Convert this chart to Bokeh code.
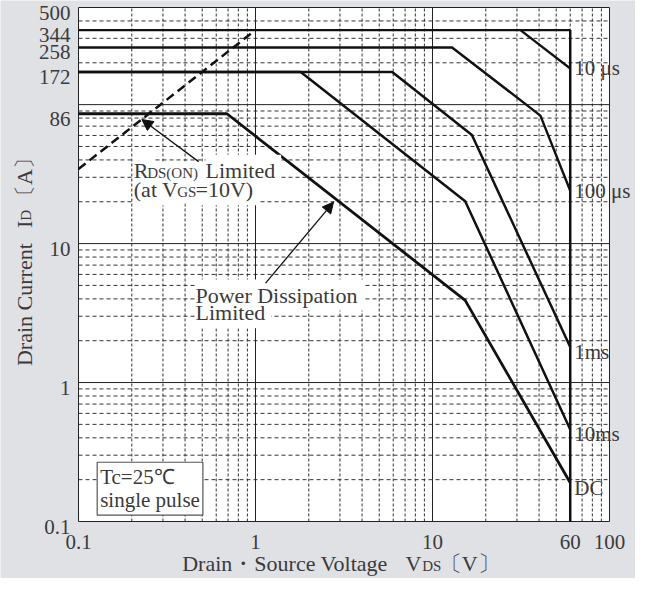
import math
from bokeh.plotting import figure
from bokeh.models import Label, Arrow, NormalHead, Range1d
from bokeh.embed import file_html
from bokeh.resources import INLINE

# ---------------- data ----------------
x_limits = [0.1, 100]
y_limits = [0.1, 500]
x_tick_values = [0.1, 1, 10, 60, 100]
x_tick_labels = ["0.1", "1", "10", "60", "100"]
y_tick_values = [0.1, 1, 10, 86, 172, 258, 344, 500]
y_tick_labels = ["0.1", "1", "10", "86", "172", "258", "344", "500"]

x_major_grid = [1, 10]
x_minor_grid = [0.2, 0.3, 0.4, 0.5, 0.6, 0.7, 0.8, 0.9,
                2, 3, 4, 5, 6, 7, 8, 9,
                20, 30, 40, 50, 60, 70, 80, 90]
y_major_grid = [1, 10, 100]
y_minor_grid = [0.2, 0.3, 0.4, 0.5, 0.6, 0.7, 0.8, 0.9,
                2, 3, 4, 5, 6, 7, 8, 9,
                20, 30, 40, 50, 60, 70, 80, 90,
                200, 300, 400]

# SOA curves (VDS [V], ID [A])
v_idp = [0.1, 60]
i_idp = [344, 344]
v_vdss = [60, 60]
i_vdss = [344, 0.1]
v_10us = [31.4, 60]
i_10us = [344, 182]
v_100us = [0.1, 12.9, 40.7, 60]
i_100us = [258, 258, 83.4, 24.0]
v_1ms = [0.1, 5.92, 16.7, 60]
i_1ms = [172, 172, 60.4, 1.8]
v_10ms = [0.1, 1.8, 15.3, 60]
i_10ms = [172, 172, 20.2, 0.46]
v_dc = [0.1, 0.69, 15.3, 60]
i_dc = [86, 86, 3.9, 0.19]
v_rds = [0.1, 1.0]
i_rds = [34.4, 344]

curve_names = ["10 μs", "100 μs", "1ms", "10ms", "DC"]
curve_ends = [i_10us[-1], i_100us[-1], i_1ms[-1], i_10ms[-1], i_dc[-1]]

# ---------------- layout / style ----------------
W, H = 635, 578
BOX_L, BOX_R, BOX_T, BOX_B = 78, 609, 7, 521   # plot box inside the canvas (px)
FONT = "Liberation Serif"
TXT = "#3b3a3a"
INK = "#111111"
BG = "#e0e1e5"
BIG, SMALL = 22, 15

xd = math.log10(x_limits[1] / x_limits[0]) / (BOX_R - BOX_L)
yd = math.log10(y_limits[1] / y_limits[0]) / (BOX_B - BOX_T)
x_lo = 10 ** (math.log10(x_limits[0]) - BOX_L * xd)
x_hi = 10 ** (math.log10(x_limits[1]) + (W - BOX_R) * xd)
y_lo = 10 ** (math.log10(y_limits[0]) - (H - BOX_B) * yd)
y_hi = 10 ** (math.log10(y_limits[1]) + BOX_T * yd)

p = figure(width=W, height=H, x_axis_type="log", y_axis_type="log",
           x_range=Range1d(x_lo, x_hi), y_range=Range1d(y_lo, y_hi),
           x_axis_location=None, y_axis_location=None,
           output_backend="svg", toolbar_location=None, min_border=0)
p.background_fill_color = BG
p.border_fill_color = BG
p.outline_line_color = None
p.xgrid.visible = False
p.ygrid.visible = False

# plot area
p.quad(left=[x_limits[0]], right=[x_limits[1]], bottom=[y_limits[0]], top=[y_limits[1]],
       fill_color="white", line_color=None)

# grid lines
n = len(x_minor_grid)
p.segment(x0=x_minor_grid, y0=[y_limits[0]] * n, x1=x_minor_grid, y1=[y_limits[1]] * n,
          line_color="#333333", line_width=1, line_dash="3 2")
n = len(y_minor_grid)
p.segment(x0=[x_limits[0]] * n, y0=y_minor_grid, x1=[x_limits[1]] * n, y1=y_minor_grid,
          line_color="#333333", line_width=1, line_dash="4 3")
n = len(x_major_grid)
p.segment(x0=x_major_grid, y0=[y_limits[0]] * n, x1=x_major_grid, y1=[y_limits[1]] * n,
          line_color="#222222", line_width=1)
n = len(y_major_grid)
p.segment(x0=[x_limits[0]] * n, y0=y_major_grid, x1=[x_limits[1]] * n, y1=y_major_grid,
          line_color="#222222", line_width=1)

# frame outline
p.quad(left=[x_limits[0]], right=[x_limits[1]], bottom=[y_limits[0]], top=[y_limits[1]],
       fill_color=None, line_color="#222222", line_width=1)

# curves
p.line(v_idp, i_idp, line_color=INK, line_width=2.2)
p.line(v_vdss, i_vdss, line_color=INK, line_width=2.5)
p.line(v_10us, i_10us, line_color=INK, line_width=2.3)
p.line(v_100us, i_100us, line_color=INK, line_width=2.4)
p.line(v_1ms, i_1ms, line_color=INK, line_width=2.5)
p.line(v_10ms, i_10ms, line_color=INK, line_width=2.5)
p.line(v_dc, i_dc, line_color=INK, line_width=2.8)
p.line(v_rds, i_rds, line_color=INK, line_width=2.5, line_dash="9 5")


def lab(x, y, text, size=BIG, color=TXT, **kw):
    p.add_layout(Label(x=x, y=y, text=text,
                       text_font=FONT, text_font_size=f"{size}px", text_color=color,
                       text_align=kw.pop("align", "left"),
                       text_baseline="middle", **kw))


# in-plot notes on white patches: (x, baseline y, text, size)
notes = [
    (0.2053, 29.75, "R", BIG),
    (0.2444, 29.75, "DS(ON)", SMALL),
    (0.5218, 29.75, "Limited", BIG),
    (0.2053, 21.56, "(at V", BIG),
    (0.3611, 21.56, "GS", SMALL),
    (0.4581, 21.56, "=10V)", BIG),
    (0.4581, 3.763, "Power Dissipation", BIG),
    (0.4581, 2.803, "Limited", BIG),
]
# white patches first (white text on white), then the visible texts on top
for x, y, t, s in notes:
    lab(x, y, t, size=s, color="white", y_offset=0.34 * s,
        background_fill_color="white", padding=3)
for x, y, t, s in notes:
    lab(x, y, t, size=s, y_offset=0.34 * s)

# tick labels
for v, s in zip(y_tick_values, y_tick_labels):
    lab(x_limits[0], v, s, size=21, x_offset=-8, y_offset=-5, align="right")
for v, s in zip(x_tick_values, x_tick_labels):
    lab(v, y_limits[0], s, size=21, y_offset=-20, align="center")

# curve name labels at the 60 V line
name_offsets = [0, 0, -5, -5, -5]
for name, iend, dy in zip(curve_names, curve_ends, name_offsets):
    lab(v_vdss[0], iend, name, size=21, x_offset=4, y_offset=dy)

# arrows
p.add_layout(Arrow(x_start=0.477, y_start=38.9, x_end=0.228, y_end=78.2,
                   line_color=INK, line_width=1.3,
                   end=NormalHead(size=11, fill_color=INK, line_color=INK)))
p.add_layout(Arrow(x_start=1.14, y_start=5.19, x_end=2.76, y_end=19.9,
                   line_color=INK, line_width=1.3,
                   end=NormalHead(size=11, fill_color=INK, line_color=INK)))

# condition box
p.add_layout(Label(x=0.1275, y=0.267,
                   text="Tc=25℃\nsingle pulse", text_align="left", text_baseline="top",
                   text_font=FONT, text_font_size="21px", text_color=TXT,
                   text_line_height=0.95,
                   background_fill_color="white", border_line_color="#555555",
                   border_line_width=1.2, padding=3))

# x axis title (centre line 42 px below the plot box)
dsm = 0.34 * (BIG - SMALL)
lab(0.3855, y_limits[0], "Drain・Source Voltage", y_offset=-42)
lab(7.04, y_limits[0], "V", y_offset=-42)
lab(8.746, y_limits[0], "DS", size=SMALL, y_offset=-42 - dsm)
lab(11.0, y_limits[0], "〔V〕", y_offset=-42)

# y axis title (rotated)
rot = math.pi / 2
lab(x_limits[0], 1.315, "Drain Current", x_offset=-54.5, angle=rot)
lab(x_limits[0], 12.94, "I", x_offset=-54.5, angle=rot)
lab(x_limits[0], 14.6, "D", size=SMALL, x_offset=-54.5 + dsm, angle=rot)
lab(x_limits[0], 18.3, "〔A〕", x_offset=-54.5, angle=rot)

open("out.html", "w").write(file_html(p, INLINE))
